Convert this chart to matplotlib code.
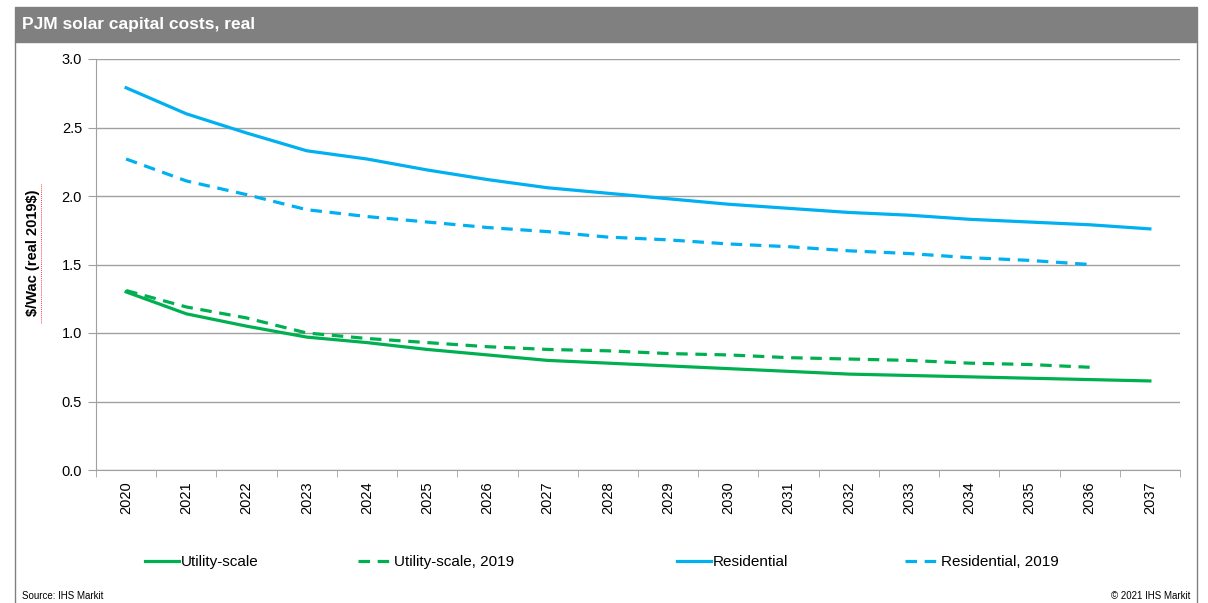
import numpy as np
import matplotlib.pyplot as plt
from matplotlib.patches import Rectangle
from matplotlib.lines import Line2D

plt.rcParams['font.family'] = ['Liberation Sans Narrow', 'Liberation Sans', 'DejaVu Sans']

years = [str(y) for y in range(2020, 2038)]
utility = [1.30, 1.14, 1.05, 0.97, 0.93, 0.88, 0.84, 0.80, 0.78, 0.76, 0.74, 0.72, 0.70, 0.69, 0.68, 0.67, 0.66, 0.65]
utility_2019 = [1.31, 1.19, 1.11, 1.00, 0.96, 0.93, 0.90, 0.88, 0.87, 0.85, 0.84, 0.82, 0.81, 0.80, 0.78, 0.77, 0.75]
residential = [2.79, 2.60, 2.46, 2.33, 2.27, 2.19, 2.12, 2.06, 2.02, 1.98, 1.94, 1.91, 1.88, 1.86, 1.83, 1.81, 1.79, 1.76]
residential_2019 = [2.27, 2.11, 2.01, 1.90, 1.85, 1.81, 1.77, 1.74, 1.70, 1.68, 1.65, 1.63, 1.60, 1.58, 1.55, 1.53, 1.50]
labels = ['Utility-scale', 'Utility-scale, 2019', 'Residential', 'Residential, 2019']

green = '#00B050'
blue = '#00B0F0'
grid = '#a0a0a0'
W, H = 1208, 603

fig = plt.figure(figsize=(W / 100, H / 100), dpi=100)

# frame and title bar
fig.patches.append(Rectangle((15 / W, 1 - 42 / H), 1182 / W, 35 / H,
                             transform=fig.transFigure, color='#808080', zorder=0))
for xf in (15, 1197):
    fig.add_artist(Line2D([xf / W, xf / W], [0, 1 - 42 / H], transform=fig.transFigure,
                          color='#808080', lw=1))
fig.text(22 / W, 1 - 25 / H, 'PJM solar capital costs, real', color='white',
         fontsize=12.5, fontweight='bold', va='center', ha='left')

ax = fig.add_axes([96 / W, 1 - 470 / H, 1084 / W, 411 / H])
x = np.arange(len(years))
lw = 2.3
dash = (0, (3.6, 2.4))
lines = []
lines += ax.plot(x, utility, color=green, lw=lw)
lines += ax.plot(x[:len(utility_2019)], utility_2019, color=green, lw=lw, ls=dash)
lines += ax.plot(x, residential, color=blue, lw=lw)
lines += ax.plot(x[:len(residential_2019)], residential_2019, color=blue, lw=lw, ls=dash)

ax.set_xlim(-0.5, len(years) - 0.5)
ax.set_ylim(0, 3.0)
yt = np.arange(0, 3.01, 0.5)
ax.set_yticks(yt)
ax.set_yticklabels([f'{v:.1f}' for v in yt])
ax.set_xticks(x)
ax.set_xticklabels(years, rotation=90)
ax.set_xticks(np.arange(-0.5, len(years), 1), minor=True)
ax.tick_params(axis='x', which='major', length=0, pad=8, labelsize=10.5)
ax.tick_params(axis='x', which='minor', length=5, color=grid)
ax.tick_params(axis='y', length=6, color=grid, labelsize=10.5, pad=4)
ax.grid(axis='y', color=grid, lw=1)
ax.set_axisbelow(True)
for s in ['top', 'right']:
    ax.spines[s].set_visible(False)
for s in ['left', 'bottom']:
    ax.spines[s].set_color(grid)

ax.set_ylabel(r'\$/Wac (real 2019\$)', fontweight='bold', fontsize=10.5)
ax.yaxis.set_label_coords((40 - 96) / 1084, (470 - 253) / 411)
# spell-check squiggle under the axis title
fig.add_artist(Line2D([41 / W, 41 / W], [1 - 323 / H, 1 - 183 / H], transform=fig.transFigure,
                      color='#ff4040', lw=0.7, ls=(0, (1, 1))))

# legend entries spread across the bottom
for h, lab, xl in zip(lines, labels, [145, 358, 677, 905]):
    fig.legend([h], [lab], loc='center left', bbox_to_anchor=(xl / W, 1 - 562 / H),
               frameon=False, fontsize=11, handlelength=2.2, handletextpad=0.15,
               borderpad=0, borderaxespad=0)

fig.text(22 / W, 1 - 596 / H, 'Source: IHS Markit', fontsize=7, va='center', ha='left')
fig.text(1190 / W, 1 - 596 / H, '\u00a9 2021 IHS Markit', fontsize=7, va='center', ha='right')

fig.savefig('out.png', dpi=100)
